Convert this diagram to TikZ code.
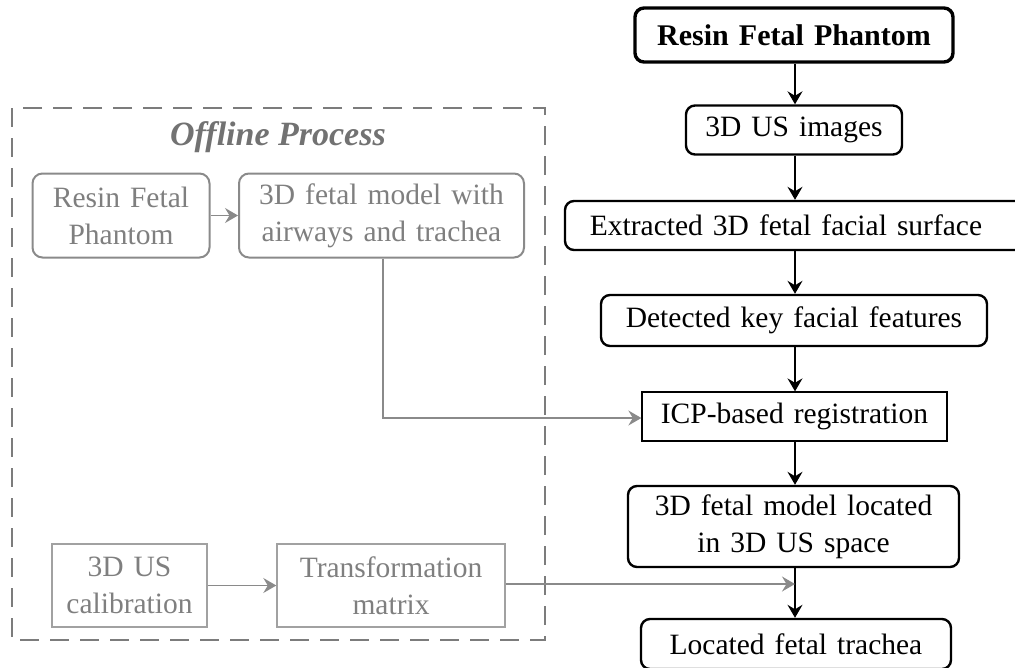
\documentclass[tikz,border=0pt]{standalone}
\usepackage{fontspec}
\setmainfont{Liberation Serif}
\usetikzlibrary{arrows.meta}
\definecolor{gtext}{HTML}{7F7F7F}
\definecolor{gline}{HTML}{8A8A8A}
\newcommand\mywsp{\spaceskip=0.34em plus 0.1em\relax}
\tikzset{
  txt/.style={font=\fontsize{29.5}{37}\selectfont, execute at begin node=\mywsp, align=center, inner sep=0pt},
  mainbox/.style={txt, draw=black, line width=2.4pt, rounded corners=9pt},
  sharpbox/.style={txt, draw=black, line width=1.3pt},
  grbox/.style={txt, draw=gline, text=gtext, line width=2pt, rounded corners=10pt},
  grrect/.style={txt, draw=gline!80, text=gtext, line width=1.4pt},
  arr/.style={line width=1.4pt, -{Stealth[length=13pt,width=15pt,inset=4.5pt]}},
  garr/.style={draw=gline, line width=1.4pt, -{Stealth[length=13pt,width=15pt,inset=4.5pt]}},
}
\begin{document}
\begin{tikzpicture}[x=1pt,y=-1pt]
\useasboundingbox (0,0) rectangle (1015,667);
% right column
\node[mainbox, line width=3.4pt, minimum width=318pt, minimum height=54pt, font=\fontsize{30}{36}\selectfont\bfseries] (n1) at (794,35) {Resin Fetal Phantom};
\node[mainbox, minimum width=216pt, minimum height=49pt] (n2) at (794,130) {3D US images};
\node[mainbox, minimum width=460pt, minimum height=49pt] (n3) at (795,225.5) {Extracted 3D fetal facial surface\hspace*{18pt}};
\node[mainbox, minimum width=386pt, minimum height=51pt] (n4) at (794,320.5) {Detected key facial features};
\node[sharpbox, minimum width=305pt, minimum height=49pt] (n5) at (794.5,416.5) {ICP-based registration};
\node[mainbox, minimum width=331pt, minimum height=81pt] (n6) at (793.5,526.5) {3D fetal model located\\in 3D US space};
\node[mainbox, minimum width=310pt, minimum height=50pt] (n7) at (796,644) {Located fetal trachea};
\draw[arr] (n1.south -| 795,0) -- (n2.north -| 795,0);
\draw[arr] (n2.south -| 795,0) -- (n3.north -| 795,0);
\draw[arr] (n3.south -| 795,0) -- (n4.north -| 795,0);
\draw[arr] (n4.south -| 795,0) -- (n5.north -| 795,0);
\draw[arr] (n5.south -| 795,0) -- (n6.north -| 795,0);
\draw[arr] (n6.south -| 795,0) -- (n7.north -| 795,0);
% offline process
\draw[gline!90!black, line width=2.6pt, dash pattern=on 19pt off 11pt] (12,108) rectangle (545,640);
\node[font=\fontsize{34}{40}\selectfont\bfseries\itshape, text=gtext!90!black] (title) at (278,137) {Offline Process};
\node[grbox, minimum width=177pt, minimum height=84pt] (g1) at (121,215.5) {Resin Fetal\\Phantom};
\node[grbox, minimum width=285pt, minimum height=84pt] (g2) at (381.5,215.5) {3D fetal model with\\airways and trachea};
\node[grrect, minimum width=155pt, minimum height=83pt] (g3) at (129.5,585.5) {3D US\\calibration};
\node[grrect, minimum width=228pt, minimum height=83pt] (g4) at (391,585.5) {Transformation\\matrix};
\draw[garr] (g1) -- (g2);
\draw[garr] (g3) -- (g4);
\coordinate (c1) at (383,418);
\draw[garr] (g2.south -| c1) |- (n5.west |- c1);
\coordinate (c2) at (795,584);
\draw[garr] (g4.east |- c2) -- (c2);
\end{tikzpicture}
\end{document}
